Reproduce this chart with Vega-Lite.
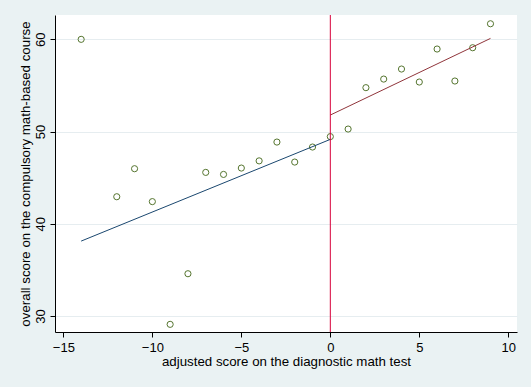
{
  "$schema": "https://vega.github.io/schema/vega-lite/v6.json",
  "width": 462,
  "height": 317,
  "autosize": "none",
  "padding": {"left": 55, "top": 15, "right": 14, "bottom": 55},
  "background": "#EAF2F3",
  "view": {"fill": "white", "stroke": null},
  "config": {
    "font": "Liberation Sans",
    "axis": {"domainColor": "black", "tickColor": "black", "labelColor": "black", "titleColor": "black", "titleFontWeight": "normal", "labelFontSize": 13, "titleFontSize": 13.3, "tickSize": 5, "domainWidth": 1, "tickWidth": 1}
  },
  "datasets": {
    "pts": [
      {"x": -14, "y": 60.0},
      {"x": -12, "y": 42.93},
      {"x": -11, "y": 45.97},
      {"x": -10, "y": 42.4},
      {"x": -9, "y": 29.09},
      {"x": -8, "y": 34.58},
      {"x": -7, "y": 45.57},
      {"x": -6, "y": 45.35},
      {"x": -5, "y": 46.04},
      {"x": -4, "y": 46.82},
      {"x": -3, "y": 48.86},
      {"x": -2, "y": 46.69},
      {"x": -1, "y": 48.32},
      {"x": 0, "y": 49.45},
      {"x": 1, "y": 50.27},
      {"x": 2, "y": 54.76},
      {"x": 3, "y": 55.69},
      {"x": 4, "y": 56.78},
      {"x": 5, "y": 55.37},
      {"x": 6, "y": 58.95},
      {"x": 7, "y": 55.48},
      {"x": 8, "y": 59.09},
      {"x": 9, "y": 61.69}
    ],
    "fits": [
      {"x": -14, "y": 38.12, "side": "left"},
      {"x": 0, "y": 49.15, "side": "left"},
      {"x": 0, "y": 51.79, "side": "right"},
      {"x": 9, "y": 60.1, "side": "right"}
    ]
  },
  "layer": [
    {
      "data": {"name": "pts"},
      "mark": {"type": "point", "shape": "circle", "filled": false, "size": 38, "strokeWidth": 1, "color": "#55752F", "opacity": 1},
      "encoding": {
        "x": {"field": "x", "type": "quantitative",
          "scale": {"domain": [-15.47, 10.49], "nice": false, "zero": false},
          "axis": {"values": [-15, -10, -5, 0, 5, 10], "grid": false, "title": "adjusted score on the diagnostic math test", "labelPadding": 4, "titlePadding": 0}},
        "y": {"field": "y", "type": "quantitative",
          "scale": {"domain": [28.26, 62.64], "nice": false, "zero": false},
          "axis": {"values": [30, 40, 50, 60], "grid": true, "gridColor": "#E6EDF0", "labelAngle": -90, "labelAlign": "center", "labelBaseline": "bottom", "labelPadding": 3, "title": "overall score on the compulsory math-based course", "titlePadding": 2}}
      }
    },
    {
      "data": {"name": "fits"},
      "transform": [{"filter": "datum.side == 'left'"}],
      "mark": {"type": "line", "color": "#1A476F", "strokeWidth": 1},
      "encoding": {
        "x": {"field": "x", "type": "quantitative"},
        "y": {"field": "y", "type": "quantitative"}
      }
    },
    {
      "data": {"name": "fits"},
      "transform": [{"filter": "datum.side == 'right'"}],
      "mark": {"type": "line", "color": "#90353B", "strokeWidth": 1},
      "encoding": {
        "x": {"field": "x", "type": "quantitative"},
        "y": {"field": "y", "type": "quantitative"}
      }
    },
    {
      "data": {"values": [{"x": 0}]},
      "mark": {"type": "rule", "color": "#D7003A", "strokeWidth": 1},
      "encoding": {
        "x": {"field": "x", "type": "quantitative"}
      }
    }
  ]
}
